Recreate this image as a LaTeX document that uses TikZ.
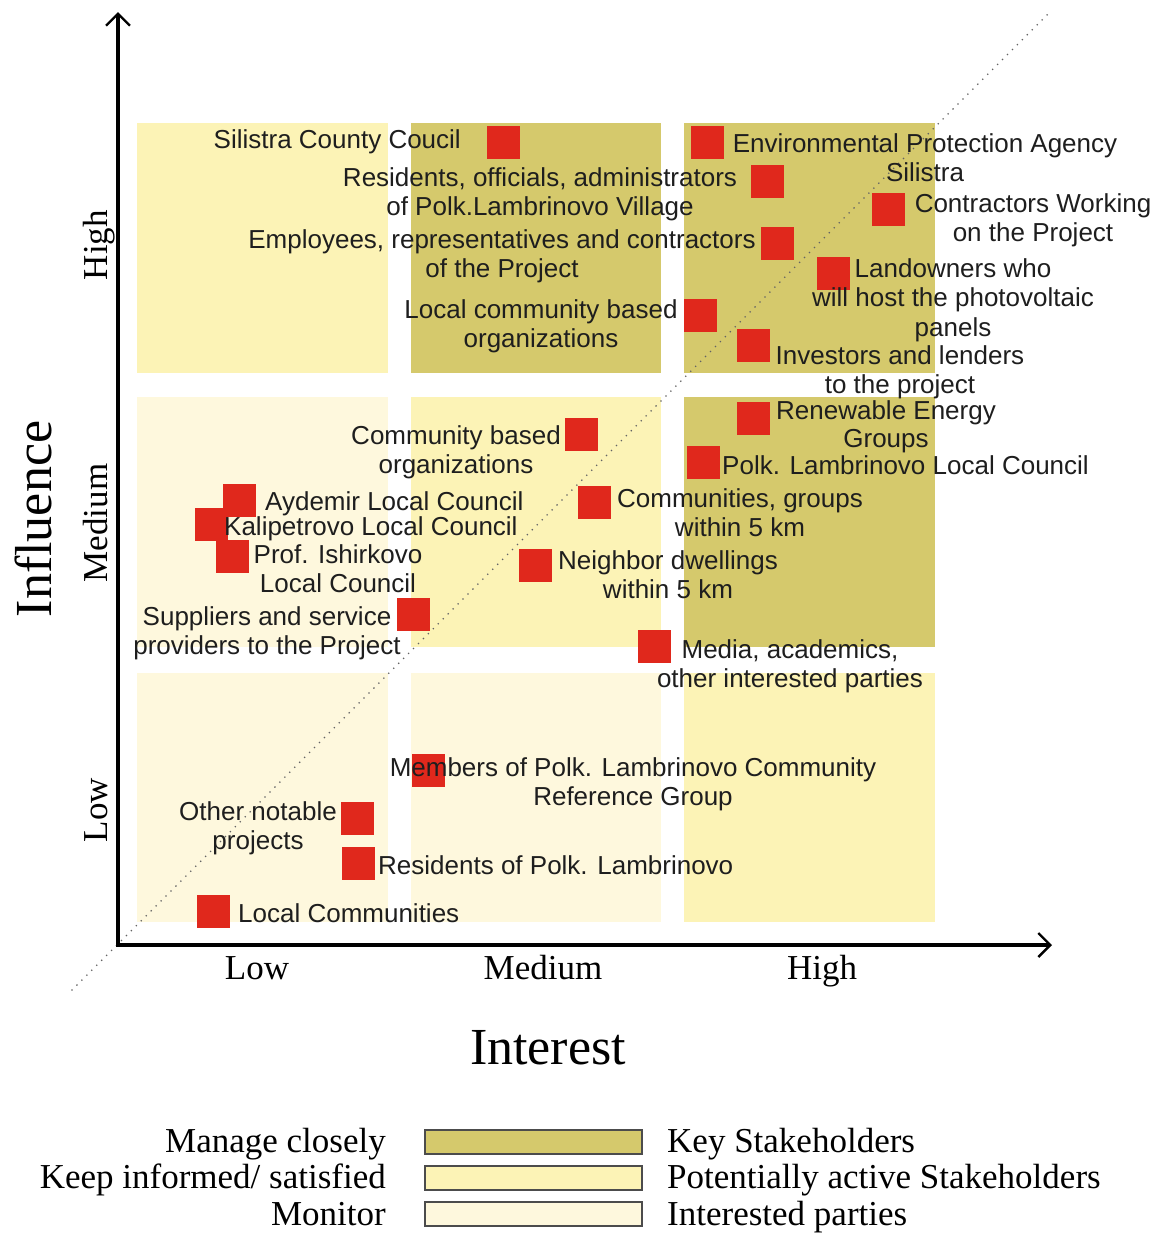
\documentclass[tikz,border=0pt]{standalone}
\usepackage{fontspec}
\setmainfont{Liberation Serif}
\newfontfamily\lsans{Liberation Sans}
\usetikzlibrary{arrows.meta}
\definecolor{keyc}{RGB}{213,201,108}
\definecolor{potc}{RGB}{252,243,182}
\definecolor{intc}{RGB}{254,248,221}
\definecolor{redsq}{RGB}{224,40,28}
\definecolor{txtc}{RGB}{30,30,30}
\definecolor{dotc}{RGB}{100,100,100}
\newcommand{\mystrut}{\rule{0pt}{19pt}}
\begin{document}
\begin{tikzpicture}[x=1pt,y=-1pt,
  sqbox/.style={fill=redsq,minimum size=33pt,inner sep=0pt,draw=none},
  lbl/.style={font=\lsans\fontsize{26}{29.5}\selectfont,inner sep=0pt,align=center,text=txtc},
  axlbl/.style={font=\fontsize{35}{40}\selectfont,inner sep=0pt,text=black},
  bigl/.style={font=\fontsize{52}{60}\selectfont,inner sep=0pt,text=black},
  leglbl/.style={font=\fontsize{35}{40}\selectfont,inner sep=0pt,text=black},
  legbox/.style={draw=black!70,line width=1.5pt,minimum width=217pt,minimum height=24pt,inner sep=0pt}
]
\useasboundingbox (0,0) rectangle (1159,1235);
\fill[white] (0,0) rectangle (1159,1235);

% panels
\fill[potc] (137,123) rectangle (388,373);
\fill[keyc] (411,123) rectangle (661,373);
\fill[keyc] (684,123) rectangle (935,373);
\fill[intc] (137,397) rectangle (388,647);
\fill[potc] (411,397) rectangle (661,647);
\fill[keyc] (684,397) rectangle (935,647);
\fill[intc] (137,673) rectangle (388,922);
\fill[intc] (411,673) rectangle (661,922);
\fill[potc] (684,673) rectangle (935,922);

% diagonal
\coordinate (d1) at (72,990);
\coordinate (d2) at (1050,12);
\draw[dotc,line width=1.8pt,line cap=round,dash pattern=on 0pt off 7pt] (d1) -- (d2);

% axes
\coordinate (O) at (118,945);
\coordinate (ytop) at (118,12);
\coordinate (xend) at (1052,945);
\draw[line width=3.6pt,line join=miter,{Straight Barb[length=12pt,width=24pt,line width=2.4pt]}-{Straight Barb[length=12pt,width=24pt,line width=2.4pt]}] (ytop) -- (O) -- (xend);

% axis labels
\node[axlbl,anchor=base] (xlow) at (257,979) {Low};
\node[axlbl,anchor=base] (xmed) at (543,979) {Medium};
\node[axlbl,anchor=base] (xhigh) at (822,979) {High};
\node[axlbl,anchor=base,rotate=90] (yhigh) at (107,245) {High};
\node[axlbl,anchor=base,rotate=90] (ymed) at (107,523) {Medium};
\node[axlbl,anchor=base,rotate=90] (ylow) at (107,810) {Low};
\node[bigl,anchor=base] (interest) at (548,1064) {Interest};
\node[bigl,anchor=base,rotate=90] (influence) at (51,519) {Influence};

% squares
\node[sqbox] (s1) at (503,142) {};
\node[sqbox] (s2) at (707,142) {};
\node[sqbox] (s3) at (767,181) {};
\node[sqbox] (s4) at (888,209) {};
\node[sqbox] (s5) at (777,243) {};
\node[sqbox] (s6) at (833,273) {};
\node[sqbox] (s7) at (700,315) {};
\node[sqbox] (s8) at (753,345) {};
\node[sqbox] (s9) at (753,418) {};
\node[sqbox] (s10) at (703,462) {};
\node[sqbox] (s11) at (581,434) {};
\node[sqbox] (s12) at (594,502) {};
\node[sqbox] (s13) at (239,500) {};
\node[sqbox] (s14) at (211,524) {};
\node[sqbox] (s15) at (232,556) {};
\node[sqbox] (s16) at (535,565) {};
\node[sqbox] (s17) at (413,614) {};
\node[sqbox] (s18) at (654,646) {};
\node[sqbox] (s19) at (428,770) {};
\node[sqbox] (s20) at (357,818) {};
\node[sqbox] (s21) at (358,863) {};
\node[sqbox] (s22) at (213,911) {};

% labels
\node[lbl,anchor=base east] (t1) at (461,148) {Silistra County Coucil};
\node[lbl,anchor=north] (t2) at (925,133) {\mystrut Environmental Protection Agency\\Silistra};
\node[lbl,anchor=north] (t3) at (540,167) {\mystrut Residents, officials, administrators\\of Polk.Lambrinovo Village};
\node[lbl,anchor=north] (t4) at (1033,193) {\mystrut Contractors Working\\on the Project};
\node[lbl,anchor=north] (t5) at (502,229) {\mystrut Employees, representatives and contractors\\of the Project};
\node[lbl,anchor=north] (t6) at (953,258) {\mystrut Landowners who\\will host the photovoltaic\\panels};
\node[lbl,anchor=north] (t7) at (541,299) {\mystrut Local community based\\organizations};
\node[lbl,anchor=north] (t8) at (900,345) {\mystrut Investors and lenders\\to the project};
\node[lbl,anchor=north,font=\lsans\fontsize{26}{28}\selectfont] (t9) at (886,400) {\mystrut Renewable Energy\\Groups};
\node[lbl,anchor=base west] (t10) at (722,474) {Polk. Lambrinovo Local Council};
\node[lbl,anchor=north] (t11) at (456,425) {\mystrut Community based\\organizations};
\node[lbl,anchor=north] (t12) at (740,488) {\mystrut Communities, groups\\within 5 km};
\node[lbl,anchor=base west] (t13) at (265,510) {Aydemir Local Council};
\node[lbl,anchor=base west] (t14) at (224,535) {Kalipetrovo Local Council};
\node[lbl,anchor=north] (t15) at (338,544) {\mystrut Prof. Ishirkovo\\Local Council};
\node[lbl,anchor=north] (t16) at (668,550) {\mystrut Neighbor dwellings\\within 5 km};
\node[lbl,anchor=north] (t17) at (267,606) {\mystrut Suppliers and service\\providers to the Project};
\node[lbl,anchor=north] (t18) at (790,639) {\mystrut Media, academics,\\other interested parties};
\node[lbl,anchor=north] (t19) at (633,757) {\mystrut Members of Polk. Lambrinovo Community\\Reference Group};
\node[lbl,anchor=north] (t20) at (258,801) {\mystrut Other notable\\projects};
\node[lbl,anchor=base west] (t21) at (378,874) {Residents of Polk. Lambrinovo};
\node[lbl,anchor=base west] (t22) at (238,922) {Local Communities};

% legend
\node[legbox,fill=keyc,anchor=north west] (lb1) at (424,1129) {};
\node[legbox,fill=potc,anchor=north west] (lb2) at (424,1165) {};
\node[legbox,fill=intc,anchor=north west] (lb3) at (424,1201) {};
\node[leglbl,anchor=base east] (ll1) at (386,1152) {Manage closely};
\node[leglbl,anchor=base east] (ll2) at (386,1188) {Keep informed/ satisfied};
\node[leglbl,anchor=base east] (ll3) at (386,1225) {Monitor};
\node[leglbl,anchor=base west] (lr1) at (667,1152) {Key Stakeholders};
\node[leglbl,anchor=base west] (lr2) at (667,1188) {Potentially active Stakeholders};
\node[leglbl,anchor=base west] (lr3) at (667,1225) {Interested parties};
\end{tikzpicture}
\end{document}
